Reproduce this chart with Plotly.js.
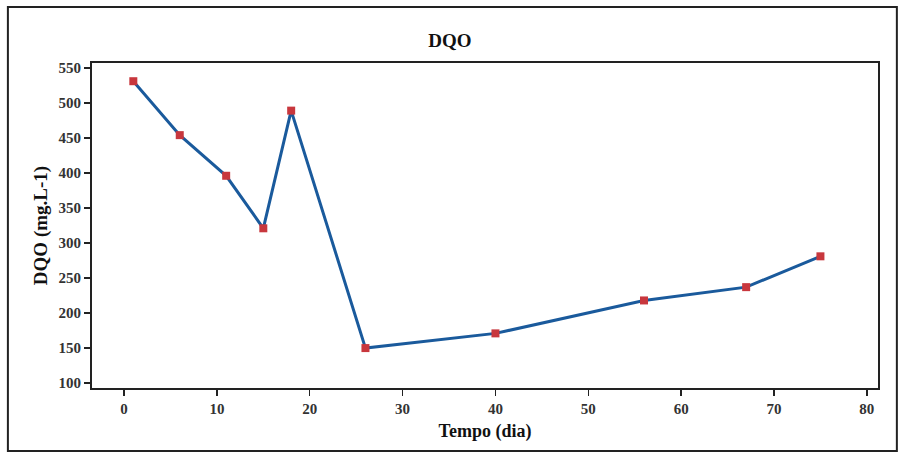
<!DOCTYPE html>
<html>
<head>
<meta charset="utf-8">
<script src="https://cdn.plot.ly/plotly-3.0.1.min.js"></script>
<style>
  html, body { margin: 0; padding: 0; background: #ffffff; }
  #chart { width: 900px; height: 453px; }
</style>
</head>
<body>
<div id="chart"></div>
<script>
// Chemical oxygen demand over the sampling period
const dias = [1, 6, 11, 15, 18, 26, 40, 56, 67, 75];
const dqo = [531, 454, 396, 321, 489, 150, 171, 218, 237, 281];

const xTicks = [0, 10, 20, 30, 40, 50, 60, 70, 80];
const yTicks = [100, 150, 200, 250, 300, 350, 400, 450, 500, 550];

const serif = 'Liberation Serif, Times New Roman, serif';

const trace = {
  x: dias,
  y: dqo,
  type: 'scatter',
  mode: 'lines+markers',
  line: { color: '#1a5a9c', width: 3 },
  marker: { symbol: 'square', size: 8, color: '#c8373d' },
  hoverinfo: 'x+y'
};

const layout = {
  width: 900,
  height: 453,
  margin: { l: 92, r: 22, t: 63, b: 65 },
  paper_bgcolor: '#ffffff',
  plot_bgcolor: '#ffffff',
  showlegend: false,
  title: {
    text: '<b>DQO</b>',
    font: { family: serif, size: 19, color: '#111' },
    x: 0.5, xanchor: 'center',
    y: 0.912, yanchor: 'middle'
  },
  xaxis: {
    range: [-3.45, 81.2],
    tickvals: xTicks,
    ticktext: xTicks.map(v => '<b>' + v + '</b>'),
    ticks: 'outside', ticklen: 6, tickwidth: 1.5, tickcolor: '#222',
    showgrid: false, zeroline: false,
    showline: true, linecolor: '#222', linewidth: 2, mirror: true,
    tickfont: { family: serif, size: 15, color: '#333' },
    title: { text: '<b>Tempo (dia)</b>', font: { family: serif, size: 18, color: '#111' }, standoff: 8 }
  },
  yaxis: {
    range: [93, 557],
    tickvals: yTicks,
    ticktext: yTicks.map(v => '<b>' + v + '</b>'),
    ticks: 'outside', ticklen: 6, tickwidth: 1.5, tickcolor: '#222',
    showgrid: false, zeroline: false,
    showline: true, linecolor: '#222', linewidth: 2, mirror: true,
    tickfont: { family: serif, size: 15, color: '#333' },
    title: { text: '<b>DQO (mg.L-1)</b>', font: { family: serif, size: 19, color: '#111' }, standoff: 6 }
  },
  shapes: [{
    type: 'rect', xref: 'paper', yref: 'paper',
    x0: -0.107, x1: 1.024, y0: -0.194, y1: 1.172,
    line: { color: '#222', width: 2 }
  }]
};

Plotly.newPlot('chart', [trace], layout, { displayModeBar: false, staticPlot: true });
</script>
</body>
</html>
